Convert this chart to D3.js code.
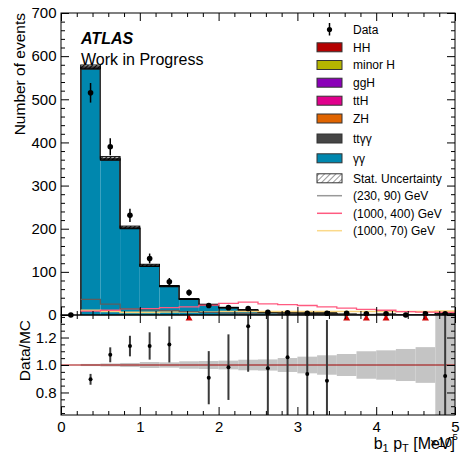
<!DOCTYPE html>
<html><head><meta charset="utf-8">
<script src="https://cdn.jsdelivr.net/npm/d3@7"></script>
<style>body{margin:0;background:#fff}</style>
</head><body>
<script>
// ---------------- data (x in units of 10^5 MeV) ----------------
const binEdges = [0,0.25,0.5,0.75,1.0,1.25,1.5,1.75,2.0,2.25,2.5,2.75,3.0,3.25,3.5,3.75,4.0,4.25,4.5,4.75,5.0];
const dataCounts = [0,515,390,231,131,77,52,22,17,15,6,5,4,4,4,3,3,0,3,3];
const bkgYY   = [0,570.0,359.0,200.3,113.2,65.6,36.0,23.5,16.7,11.25,5.8,4.45,4.06,4.35,1.36,1.09,1.41,0.51,0.92,3.19];
const bkgTTYY = [0,1.0,0.9,0.7,0.5,0.4,0.3,0.25,0.2,0.15,0.12,0.1,0.08,0.06,0.05,0.04,0.03,0.03,0.02,0.02];
const bkgZH   = [0,0.3,0.3,0.25,0.2,0.15,0.1,0.08,0.06,0.05,0.04,0.03,0.03,0.02,0.02,0.01,0.01,0.01,0.01,0.01];
const bkgTTH  = [0,0.5,0.5,0.4,0.3,0.25,0.2,0.15,0.12,0.1,0.08,0.06,0.05,0.04,0.03,0.03,0.02,0.02,0.02,0.01];
const bkgGGH  = [0,2.5,1.8,1.0,0.6,0.4,0.25,0.15,0.1,0.08,0.05,0.04,0.03,0.02,0.02,0.01,0.01,0.01,0.01,0.01];
const bkgMinorH = [0,0.6,0.5,0.3,0.2,0.15,0.1,0.08,0.06,0.05,0.04,0.03,0.02,0.02,0.01,0.01,0.01,0.01,0.01,0.01];
const bkgHH   = [0,0.05,0.06,0.06,0.05,0.04,0.04,0.03,0.03,0.02,0.02,0.02,0.01,0.01,0.01,0.01,0.01,0.01,0.01,0.01];
const mcStatUnc = [0,4.5,4,3,2.5,1.3,1.0,0.7,0.55,0.45,0.25,0.24,0.26,0.32,0.12,0.12,0.16,0.07,0.13,2];
const sig230_90  = [0,36,25,14,12,10,8,6,4.5,3.5,2.5,2,1.5,1.2,1,0.8,0.6,0.5,0.4,0.3];
const sig1000_400 = [0,9,11,14,15,17,19,23,27,30,26,24,22,19,16,13,11,8,6.5,6];
const sig1000_70 = [0,11,8,6,6,7,7,7,8,8,8,8,8,8,8,8,8,8,8,9];
const stackNames = ["γγ","ttγγ","ZH","ttH","ggH","minor H","HH"];
const stackSeries = [bkgYY,bkgTTYY,bkgZH,bkgTTH,bkgGGH,bkgMinorH,bkgHH];
const stackColors = ["#0087ae","#454545","#e06400","#e0008c","#8a00b8","#b4b400","#b40000"];
const xTicks = [0,1,2,3,4,5];
const yTicks = [0,100,200,300,400,500,600,700];
const rTicks = [0.8,1.0,1.2];

// ---------------- layout ----------------
const FONT = "'Liberation Sans', Arial, Helvetica, sans-serif";
const L=61, R=455, T=13, M=315, B=415;
const svg = d3.select("body").append("svg").attr("width",460).attr("height",454)
  .style("font-family",FONT);
const x = d3.scaleLinear().domain([0,5]).range([L,R]);
const y = d3.scaleLinear().domain([0,700]).range([M,T]);
const yr = d3.scaleLinear().domain([0.636,1.364]).range([B,M]);

const defs = svg.append("defs");
const pat = defs.append("pattern").attr("id","hatch").attr("patternUnits","userSpaceOnUse")
  .attr("width",3).attr("height",3).attr("patternTransform","rotate(45)");
pat.append("line").attr("x1",0).attr("y1",0).attr("x2",0).attr("y2",3).attr("stroke","#000").attr("stroke-width",1.8);
const pat2 = defs.append("pattern").attr("id","hatchL").attr("patternUnits","userSpaceOnUse")
  .attr("width",4).attr("height",4).attr("patternTransform","rotate(45)");
pat2.append("line").attr("x1",0).attr("y1",0).attr("x2",0).attr("y2",4).attr("stroke","#333").attr("stroke-width",1);
defs.append("clipPath").attr("id","clipTop").append("rect").attr("x",L).attr("y",T).attr("width",R-L).attr("height",M-T);
defs.append("clipPath").attr("id","clipR").append("rect").attr("x",L).attr("y",M).attr("width",R-L).attr("height",B-M);

const nb = dataCounts.length;
const bins = d3.range(nb).map(i=>({i, lo:binEdges[i], hi:binEdges[i+1], c:(binEdges[i]+binEdges[i+1])/2}));
const cum = stackSeries.map(()=>new Array(nb).fill(0));
for(let i=0;i<nb;i++){let s=0; stackSeries.forEach((ser,k)=>{s+=ser[i]; cum[k][i]=s;});}
const mcTot = cum[cum.length-1];

const topG = svg.append("g").attr("clip-path","url(#clipTop)");
stackSeries.forEach((ser,k)=>{
  topG.append("g").selectAll("rect").data(bins.filter(b=>ser[b.i]>0)).join("rect")
    .attr("x",b=>x(b.lo)).attr("width",b=>x(b.hi)-x(b.lo))
    .attr("y",b=>y(cum[k][b.i])).attr("height",b=>y(cum[k][b.i]-ser[b.i])-y(cum[k][b.i]))
    .attr("fill",stackColors[k]);
});
function stepPts(vals, from){
  const pts=[];
  for(let i=from;i<nb;i++){pts.push([binEdges[i], i===from?0:vals[i-1]]); pts.push([binEdges[i],vals[i]]); pts.push([binEdges[i+1],vals[i]]);}
  pts.push([binEdges[nb],0]);
  return pts;
}
const line = d3.line().x(d=>x(d[0])).y(d=>y(d[1]));
cum.forEach((c,k)=>{
  topG.append("path").attr("d",line(stepPts(c,1))).attr("fill","none").attr("stroke","#333").attr("stroke-width",0.9);
});
topG.append("g").selectAll("rect").data(bins.filter(b=>mcTot[b.i]>0)).join("rect")
  .attr("x",b=>x(b.lo)).attr("width",b=>x(b.hi)-x(b.lo))
  .attr("y",b=>y(mcTot[b.i]+mcStatUnc[b.i]))
  .attr("height",b=>Math.max(0,y(Math.max(0,mcTot[b.i]-mcStatUnc[b.i]))-y(mcTot[b.i]+mcStatUnc[b.i])))
  .attr("fill","url(#hatch)").attr("stroke","#000").attr("stroke-width",1);
const sigLine = d3.line().x(d=>x(d[0])).y(d=>y(d[1]));
function sigPts(vals){const p=[];for(let i=1;i<nb;i++){p.push([binEdges[i],vals[i]]);p.push([binEdges[i+1],vals[i]]);}return p;}
topG.append("path").attr("d",sigLine(sigPts(sig1000_70))).attr("fill","none").attr("stroke","#f8d278").attr("stroke-width",1.6);
topG.append("path").attr("d",sigLine(sigPts(sig1000_400))).attr("fill","none").attr("stroke","#ff5a80").attr("stroke-width",1.3);
topG.append("path").attr("d",sigLine(sigPts(sig230_90))).attr("fill","none").attr("stroke","#5e5e5e").attr("stroke-width",1.3);

const dg = svg.append("g");
bins.forEach(b=>{
  const v=dataCounts[b.i], e=Math.sqrt(v);
  if(e>0) dg.append("line").attr("x1",x(b.c)).attr("x2",x(b.c)).attr("y1",y(v+e)).attr("y2",y(v-e)).attr("stroke","#000").attr("stroke-width",1.5);
  dg.append("circle").attr("cx",x(b.c)).attr("cy",y(v)).attr("r",2.8).attr("fill","#000");
});

// ---------------- ratio panel ----------------
const rp = svg.append("g").attr("clip-path","url(#clipR)");
rp.append("g").selectAll("rect").data(bins.filter(b=>mcTot[b.i]>0)).join("rect")
  .attr("x",b=>x(b.lo)).attr("width",b=>x(b.hi)-x(b.lo))
  .attr("y",b=>yr(1+mcStatUnc[b.i]/mcTot[b.i]))
  .attr("height",b=>yr(1-mcStatUnc[b.i]/mcTot[b.i])-yr(1+mcStatUnc[b.i]/mcTot[b.i]))
  .attr("fill","#c4c4c4");
rp.append("line").attr("x1",L).attr("x2",R).attr("y1",yr(1)).attr("y2",yr(1)).attr("stroke","#a00000").attr("stroke-width",1.1);
const rmax = yr.domain()[1];
bins.forEach(b=>{
  const d=dataCounts[b.i], m=mcTot[b.i];
  if(m<=0||d<=0) return;
  const r=d/m, e=Math.sqrt(d)/m;
  if(r>rmax){
    const cx=x(b.c);
    svg.append("path").attr("d",`M${cx-3.5},${M+5.5}L${cx+3.5},${M+5.5}L${cx},${M-0.5}Z`).attr("fill","#d00000");
    return;
  }
  rp.append("line").attr("x1",x(b.c)).attr("x2",x(b.c)).attr("y1",yr(r+e)).attr("y2",yr(r-e)).attr("stroke","#3a3a3a").attr("stroke-width",2);
  rp.append("circle").attr("cx",x(b.c)).attr("cy",yr(r)).attr("r",2).attr("fill","#000");
});

// ---------------- axes ----------------
function style(g, withText){
  g.select(".domain").remove();
  g.selectAll("line").attr("stroke","#000").attr("stroke-width",1);
  g.selectAll("text").attr("font-family",FONT).attr("font-size",15).attr("fill","#000");
  if(!withText) g.selectAll("text").remove();
}
const xMinor = d3.range(0,26).map(i=>i*0.2).filter(v=>Math.abs(v-Math.round(v))>1e-6);
const yMinor = d3.range(0,36).map(i=>i*20).filter(v=>v%100!==0);
const rMinor = d3.range(0,15).map(i=>0.65+i*0.05).filter(v=>v<1.364 && Math.abs(v*5-Math.round(v*5))>1e-6);
function xAxes(yb, yt, labels){
  svg.append("g").attr("transform",`translate(0,${yb})`).call(d3.axisBottom(x).tickValues(xTicks).tickSize(-8).tickPadding(6).tickFormat(d3.format("d"))).call(g=>style(g,labels));
  svg.append("g").attr("transform",`translate(0,${yb})`).call(d3.axisBottom(x).tickValues(xMinor).tickSize(-4)).call(g=>style(g,false));
  svg.append("g").attr("transform",`translate(0,${yt})`).call(d3.axisTop(x).tickValues(xTicks).tickSize(-8)).call(g=>style(g,false));
  svg.append("g").attr("transform",`translate(0,${yt})`).call(d3.axisTop(x).tickValues(xMinor).tickSize(-4)).call(g=>style(g,false));
}
function yAxes(sc, major, minor, fmt){
  svg.append("g").attr("transform",`translate(${L},0)`).call(d3.axisLeft(sc).tickValues(major).tickSize(-8).tickPadding(4.5).tickFormat(fmt)).call(g=>style(g,true));
  svg.append("g").attr("transform",`translate(${L},0)`).call(d3.axisLeft(sc).tickValues(minor).tickSize(-4)).call(g=>style(g,false));
  svg.append("g").attr("transform",`translate(${R},0)`).call(d3.axisRight(sc).tickValues(major).tickSize(-8)).call(g=>style(g,false));
  svg.append("g").attr("transform",`translate(${R},0)`).call(d3.axisRight(sc).tickValues(minor).tickSize(-4)).call(g=>style(g,false));
}
xAxes(M, T, false);
xAxes(B, M, true);
yAxes(y, yTicks, yMinor, d3.format("d"));
yAxes(yr, rTicks, rMinor, d3.format(".1f"));
svg.append("rect").attr("x",L).attr("y",T).attr("width",R-L).attr("height",M-T).attr("fill","none").attr("stroke","#000").attr("stroke-width",1);
svg.append("rect").attr("x",L).attr("y",M).attr("width",R-L).attr("height",B-M).attr("fill","none").attr("stroke","#000").attr("stroke-width",1);

svg.append("text").attr("transform","translate(25,13) rotate(-90)").attr("text-anchor","end")
  .attr("font-size",15.5).text("Number of events");
svg.append("text").attr("transform","translate(30,320) rotate(-90)").attr("text-anchor","end")
  .attr("font-size",15.5).text("Data/MC");
const xt = svg.append("text").attr("x",455).attr("y",449).attr("text-anchor","end").attr("font-size",16);
xt.append("tspan").text("b");
xt.append("tspan").attr("font-size",11).attr("dy",3).text("1");
xt.append("tspan").attr("dy",-3).text(" p");
xt.append("tspan").attr("font-size",11).attr("dy",3).text("T");
xt.append("tspan").attr("dy",-3).text(" [MeV]");
svg.append("text").attr("x",452).attr("y",447).attr("text-anchor","end").attr("font-size",13).text("×10");
svg.append("text").attr("x",452.5).attr("y",440).attr("font-size",9.5).text("5");
svg.append("text").attr("x",81).attr("y",43.5).attr("font-size",16).attr("font-weight","bold").attr("font-style","italic").text("ATLAS");
svg.append("text").attr("x",81).attr("y",65).attr("font-size",16).text("Work in Progress");

// ---------------- legend ----------------
const legRows = [29.5,47.3,65,82.7,100.7,118.5,138.5,158.3,178.3,195.7,213.3,230.7];
const legItems = [
  {t:"Data", type:"data"},
  {t:"HH", type:"box", c:stackColors[6]},
  {t:"minor H", type:"box", c:stackColors[5]},
  {t:"ggH", type:"box", c:stackColors[4]},
  {t:"ttH", type:"box", c:stackColors[3]},
  {t:"ZH", type:"box", c:stackColors[2]},
  {t:"ttγγ", type:"box", c:stackColors[1]},
  {t:"γγ", type:"box", c:stackColors[0]},
  {t:"Stat. Uncertainty", type:"hatch"},
  {t:"(230, 90) GeV", type:"line", c:"#999999"},
  {t:"(1000, 400) GeV", type:"line", c:"#ff5a80"},
  {t:"(1000, 70) GeV", type:"line", c:"#fbd98a"}
];
const lg = svg.append("g");
legItems.forEach((it,i)=>{
  const cy = legRows[i];
  if(it.type==="data"){
    lg.append("line").attr("x1",329.5).attr("x2",329.5).attr("y1",cy-6.5).attr("y2",cy+6).attr("stroke","#000").attr("stroke-width",1.5);
    lg.append("circle").attr("cx",329.5).attr("cy",cy).attr("r",2.6).attr("fill","#000");
  } else if(it.type==="box"){
    lg.append("rect").attr("x",317).attr("y",cy-4.5).attr("width",25).attr("height",9).attr("fill",it.c).attr("stroke","#333").attr("stroke-width",1);
  } else if(it.type==="hatch"){
    lg.append("rect").attr("x",317).attr("y",cy-4.5).attr("width",25).attr("height",9).attr("fill","url(#hatchL)").attr("stroke","#333").attr("stroke-width",1);
  } else {
    lg.append("line").attr("x1",317).attr("x2",342).attr("y1",cy).attr("y2",cy).attr("stroke",it.c).attr("stroke-width",1.5);
  }
  lg.append("text").attr("x",353).attr("y",cy).attr("dy","0.36em").attr("font-size",12).text(it.t);
});
</script>
</body></html>
